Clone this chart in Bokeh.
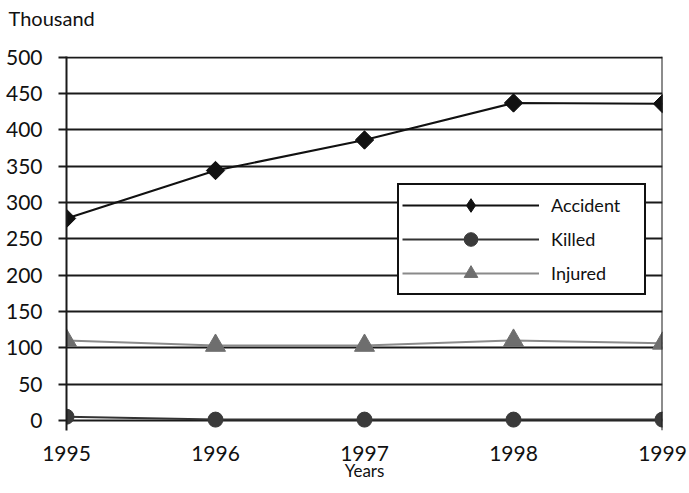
import numpy as np
from bokeh.plotting import figure
from bokeh.models import Range1d, FixedTicker, Span, Legend, LegendItem, Label
from bokeh.embed import file_html
from bokeh.resources import INLINE

# ---- data ----
years = [1995, 1996, 1997, 1998, 1999]
accident = [278, 344, 386, 437, 436]
killed = [5, 1, 1, 1, 1]
injured = [110, 103, 103, 110, 106]
y_ticks = [0, 50, 100, 150, 200, 250, 300, 350, 400, 450, 500]
x_tick_labels = ["1995", "1996", "1997", "1998", "1999"]
series_names = ["Accident", "Killed", "Injured"]
y_unit = "Thousand"
x_title = "Years"

FONT = "Lato"
INK = "#111111"

p = figure(width=689, height=493, output_backend="svg", toolbar_location=None,
           x_range=Range1d(years[0], years[-1]), y_range=Range1d(-14, 501),
           min_border_left=66, min_border_right=27, min_border_top=56,
           min_border_bottom=63)
p.outline_line_color = None
p.background_fill_color = "white"
p.border_fill_color = "white"

# unit caption above the y axis (in the top side panel)
p.add_layout(Label(x=-58, y=39, x_units="screen", y_units="screen", text=y_unit,
                   text_font=FONT, text_font_size="20px", text_color=INK,
                   text_baseline="alphabetic", text_align="left"), "above")

# grid
p.xgrid.grid_line_color = None
p.ygrid.ticker = FixedTicker(ticks=y_ticks)
p.ygrid.grid_line_color = "#1a1a1a"
p.ygrid.grid_line_width = 2

# y axis
p.yaxis.ticker = FixedTicker(ticks=y_ticks)
p.yaxis.axis_line_color = "#1a1a1a"
p.yaxis.axis_line_width = 2
p.yaxis.major_tick_line_color = "#1a1a1a"
p.yaxis.major_tick_line_width = 2
p.yaxis.major_tick_out = 8
p.yaxis.major_tick_in = 0
p.yaxis.minor_tick_line_color = None
p.yaxis.major_label_standoff = 16
p.yaxis.major_label_text_font = FONT
p.yaxis.major_label_text_font_size = "21px"
p.yaxis.major_label_text_color = INK

# x axis
p.xaxis.ticker = FixedTicker(ticks=years)
p.xaxis.major_label_overrides = {y: s for y, s in zip(years, x_tick_labels)}
p.xaxis.axis_line_color = None
p.xaxis.major_tick_line_color = None
p.xaxis.minor_tick_line_color = None
p.xaxis.major_label_standoff = 9
p.xaxis.major_label_text_font = FONT
p.xaxis.major_label_text_font_size = "21px"
p.xaxis.major_label_text_color = INK
p.xaxis.axis_label = x_title
p.xaxis.axis_label_text_font = FONT
p.xaxis.axis_label_text_font_size = "17px"
p.xaxis.axis_label_text_font_style = "normal"
p.xaxis.axis_label_text_color = INK
p.xaxis.axis_label_standoff = -4

# right border line
p.add_layout(Span(location=years[-1], dimension="height", line_color="#1a1a1a", line_width=2))

# series
acc_l = p.line(years, accident, line_color=INK, line_width=2)
# diamond (hidden beneath the rotated squares) gives the legend its diamond symbol
acc_d = p.scatter(years, accident, marker="diamond", size=17,
                  fill_color=INK, line_color=INK)
acc_m = p.scatter(years, accident, marker="square", angle=np.pi / 4, size=13,
                  fill_color=INK, line_color=INK)
kil_l = p.line(years, killed, line_color="#333333", line_width=2)
kil_m = p.scatter(years, killed, marker="circle", size=15,
                  fill_color="#3a3a3a", line_color="#3a3a3a")
inj_l = p.line(years, injured, line_color="#8a8a8a", line_width=2)
inj_m = p.scatter(years, injured, marker="triangle", size=20,
                  fill_color="#6e6e6e", line_color="#6e6e6e")

legend = Legend(items=[
    LegendItem(label=series_names[0], renderers=[acc_l, acc_d]),
    LegendItem(label=series_names[1], renderers=[kil_l, kil_m]),
    LegendItem(label=series_names[2], renderers=[inj_l, inj_m]),
], location=(331, 135))
legend.glyph_width = 137
legend.glyph_height = 34
legend.label_height = 20
legend.label_width = 90
legend.label_standoff = 12
legend.padding = 3
legend.spacing = 0
legend.margin = 0
legend.label_text_font = FONT
legend.label_text_font_size = "18px"
legend.label_text_color = INK
legend.border_line_color = INK
legend.border_line_width = 2
legend.border_line_alpha = 1.0
legend.background_fill_color = "white"
legend.background_fill_alpha = 1.0
p.add_layout(legend)

open("out.html", "w").write(file_html(p, INLINE))
